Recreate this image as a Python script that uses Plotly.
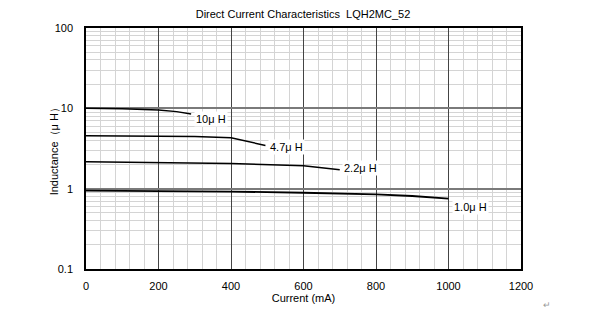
import math
import plotly.graph_objects as go

# DC bias characteristics of the LQH2MC_52 inductor series
current_10uH = [0, 100, 200, 250, 290]
induct_10uH = [10.0, 9.9, 9.5, 9.1, 8.5]

current_4p7uH = [0, 200, 300, 400, 450, 495]
induct_4p7uH = [4.55, 4.5, 4.45, 4.3, 3.85, 3.45]

current_2p2uH = [0, 200, 400, 600, 650, 700]
induct_2p2uH = [2.16, 2.12, 2.05, 1.93, 1.82, 1.72]

current_1uH = [0, 200, 400, 600, 800, 900, 1000]
induct_1uH = [0.945, 0.94, 0.92, 0.89, 0.85, 0.81, 0.75]

series = [
    ("10\u03bc H", current_10uH, induct_10uH),
    ("4.7\u03bc H", current_4p7uH, induct_4p7uH),
    ("2.2\u03bc H", current_2p2uH, induct_2p2uH),
    ("1.0\u03bc H", current_1uH, induct_1uH),
]

x_ticks = [0, 200, 400, 600, 800, 1000, 1200]
y_ticks = [0.1, 1, 10, 100]
y_tick_labels = ["0.1", "1", "10", "100"]

FONT = "Liberation Sans, Arial, sans-serif"

fig = go.Figure()
for name, xs, ys in series:
    fig.add_trace(go.Scatter(
        x=xs, y=ys, mode="lines", name=name,
        line=dict(color="black", width=1.8 if name.startswith("1.0") else 1.5),
        showlegend=False,
    ))

# Curve labels placed just past the end of each curve (pixel offsets)
label_offsets = {
    "10\u03bc H": (20, 5),
    "4.7\u03bc H": (21, 2),
    "2.2\u03bc H": (21, -2),
    "1.0\u03bc H": (22, 8),
}
for name, xs, ys in series:
    dx, dy = label_offsets[name]
    fig.add_annotation(
        x=xs[-1], y=math.log10(ys[-1]), yref="y", xref="x",
        text=name, showarrow=False,
        xshift=dx, yshift=-dy,
        bgcolor="white", borderpad=1,
        font=dict(family=FONT, size=11, color="black"),
    )

# Vertical axis title, set close to the tick labels
fig.add_annotation(
    xref="paper", yref="paper", x=-0.074, y=0.5,
    xanchor="center", yanchor="middle",
    text="Inductance\uff08\u03bc H\uff09", textangle=-90, showarrow=False,
    font=dict(family=FONT, size=11, color="black"),
)

fig.add_annotation(
    xref="paper", yref="paper", x=1.06, y=-0.15,
    xanchor="center", yanchor="middle",
    text="\u21b5", showarrow=False,
    font=dict(family=FONT, size=9, color="#999999"),
)

fig.update_layout(
    width=600, height=324,
    margin=dict(l=86, r=79, t=28, b=55),
    paper_bgcolor="white", plot_bgcolor="white",
    title=dict(
        text="Direct Current Characteristics\u00a0\u00a0LQH2MC_52",
        x=0.505, xanchor="center", y=0.955, yanchor="middle",
        font=dict(family=FONT, size=11, color="black"),
    ),
    xaxis=dict(
        range=[0, 1200], tickvals=x_ticks,
        showgrid=True, gridcolor="#444444", gridwidth=1,
        minor=dict(dtick=40, showgrid=True, gridcolor="#d4d4d4", gridwidth=1),
        showline=True, linecolor="black", linewidth=1.5, mirror=True,
        zeroline=False, ticks="", ticklabelstandoff=6,
        tickfont=dict(family=FONT, size=11, color="black"),
        title=dict(text="Current (mA)", standoff=0,
                   font=dict(family=FONT, size=11, color="black")),
    ),
    yaxis=dict(
        type="log", range=[-1, 2],
        tickvals=y_ticks, ticktext=y_tick_labels,
        showgrid=True, gridcolor="#7a7a7a", gridwidth=1.5,
        minor=dict(dtick="D1", showgrid=True, gridcolor="#d4d4d4", gridwidth=1),
        showline=True, linecolor="black", linewidth=1.5, mirror=True,
        zeroline=False, ticks="", ticklabelstandoff=9,
        tickfont=dict(family=FONT, size=11, color="black"),
    ),
)

fig.write_html("out.html")
